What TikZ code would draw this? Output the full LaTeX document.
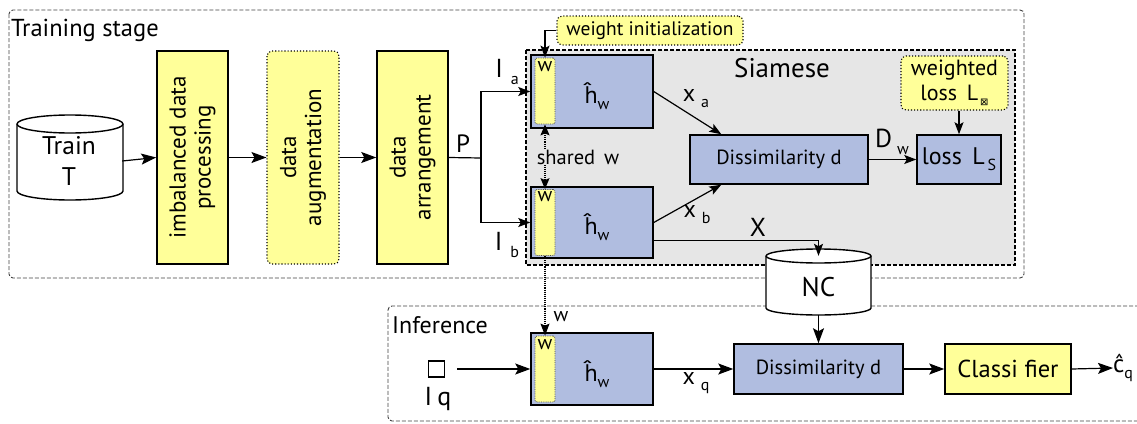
\documentclass[tikz,border=0pt]{standalone}
\usepackage{fontspec}
\setmainfont{PT Sans}
\newfontfamily\djv{DejaVu Sans}
\usetikzlibrary{arrows.meta,calc}
\definecolor{yel}{HTML}{FFFF99}
\definecolor{blu}{HTML}{B0BDE0}
\definecolor{sgray}{HTML}{E6E6E6}
\newcommand{\lo}[1]{\raisebox{-0.5ex}{\fontsize{16}{16}\selectfont #1}}
\newcommand{\fz}[1]{\fontsize{#1}{1.15em}\selectfont}
\tikzset{
  yb/.style={draw, line width=1.5pt, fill=yel, align=center, inner sep=0pt},
  bb/.style={draw, line width=1.5pt, fill=blu, align=center, inner sep=0pt},
  db/.style={draw, dotted, line width=1.1pt, rounded corners=5pt, fill=yel, align=center, inner sep=0pt},
  strip/.style={draw=black!70, densely dotted, line width=0.8pt, rounded corners=2pt, fill=yel, minimum width=20pt, minimum height=66pt, inner sep=0pt},
  arr/.style={-{Stealth[length=15pt,width=11pt,inset=3pt]}, line width=1.2pt},
  sarr/.style={-{Stealth[length=12pt,width=9pt,inset=2.5pt]}, line width=1.2pt},
  txt/.style={inner sep=0pt, align=center},
}
\begin{document}
\begin{tikzpicture}[x=1pt,y=-1pt]
\useasboundingbox (0,0) rectangle (1137,423);
% frames
\draw[black!75, dash pattern=on 4pt off 2pt, line width=0.9pt, rounded corners=4pt] (9,10) rectangle (1024,278);
\node[txt, font=\fz{24.5}, anchor=west] (tstage) at (11,30) {Training stage};
\draw[dash pattern=on 4pt off 2pt, line width=1.2pt, fill=sgray] (526,50) rectangle (1015,265);
\node[txt, font=\fz{27}] (siam) at (782,68) {Siamese};
\draw[black!75, dash pattern=on 4pt off 2pt, line width=0.9pt, rounded corners=4pt] (1145,306) -- (388,306) -- (388,421) -- (1145,421);
\node[txt, font=\fz{24}, anchor=west] (inf) at (392,325) {Inference};

% Train cylinder
\draw[line width=1.4pt, fill=white] (17,124) -- (17,191) arc[start angle=180, end angle=0, x radius=53, y radius=9] -- (123,124) arc[start angle=0, end angle=-180, x radius=53, y radius=9] -- cycle;
\draw[line width=1.4pt] (17,124) arc[start angle=180, end angle=0, x radius=53, y radius=9];
\node[txt, font=\fontsize{25.5}{31}\selectfont, minimum width=106pt, minimum height=85pt] (train) at (69,161) {Train\\T};

% pipeline
\node[yb, font=\fontsize{23}{25}\selectfont, rotate=90, minimum width=213pt, minimum height=71pt] (imb) at (192.5,157.5) {imbalanced data\\processing};
\node[db, font=\fontsize{23}{25}\selectfont, rotate=90, minimum width=213pt, minimum height=72pt] (aug) at (303,157.5) {data\\augmentation};
\node[yb, font=\fontsize{23}{25}\selectfont, rotate=90, minimum width=213pt, minimum height=71pt] (arrn) at (412.5,157.5) {data\\arrangement};
\draw[arr] (train.east) -- (imb.north);
\draw[arr] (imb.south) -- (aug.north);
\draw[arr] (aug.south) -- (arrn.north);
\coordinate (split) at (481,158);
\node[txt, font=\fz{25}] (P) at (463,144) {P};

% siamese blocks
\node[bb, minimum width=122pt, minimum height=73pt] (ha) at (592,91.5) {};
\node[bb, minimum width=122pt, minimum height=71pt] (hb) at (592,222.5) {};
\node[strip] (sa) at (545,91) {};
\node[strip] (sb) at (545,222.5) {};
\node[txt, font=\fz{20}] (wa) at (545,67) {w};
\node[txt, font=\fz{20}] (wb) at (545,197) {w};
\node[txt, font=\fz{24}] (hta) at (597,96) {\^{h}\lo{w}};
\node[txt, font=\fz{24}] (htb) at (597,227) {\^{h}\lo{w}};
\draw[line width=1.2pt] (arrn.south) -- (split);
\draw[sarr] (split) |- (ha.west);
\draw[sarr] (split) |- (hb.west);
\node[txt, font=\fz{26}] (Ia) at (507,72) {I\hspace{8pt}\lo{a}};
\node[txt, font=\fz{26}] (Ib) at (507,245) {I\hspace{8pt}\lo{b}};

\node[db, font=\fz{19.5}, minimum width=186pt, minimum height=29pt] (wi) at (650,30.5) {weight initialization};
\draw[sarr] (wi.west) -| (sa.north);
\draw[densely dotted, line width=1.1pt, {Stealth[length=11pt,width=9pt,inset=2pt]}-{Stealth[length=11pt,width=9pt,inset=2pt]}] (sa.south) -- (sb.north);
\node[txt, font=\fz{20.5}, fill=sgray, inner sep=1pt] (shw) at (578,157) {shared\, w};

\node[bb, font=\fz{20.5}, minimum width=178pt, minimum height=49pt] (d1) at (779,159.5) {Dissimilarity d};
\node[bb, font=\fz{24}, minimum width=84pt, minimum height=49pt] (ls) at (959,159.5) {loss \,L\hspace{3pt}\lo{S}};
\node[db, font=\fontsize{22}{25}\selectfont, minimum width=107pt, minimum height=54pt] (wl) at (954.5,83) {weighted\\loss \,L\hspace{2pt}\lo{\djv\fontsize{10}{10}\selectfont ⊠}};
\draw[sarr] (ha.east) -- ($(d1.north west)+(32,0)$);
\draw[sarr] (hb.east) -- ($(d1.south west)+(32,0)$);
\node[txt, font=\fz{24}] (xa) at (696,99) {x\hspace{6pt}\lo{a}};
\node[txt, font=\fz{24}] (xb) at (697,215) {x\hspace{6pt}\lo{b}};
\draw[sarr] (d1.east) -- (ls.west);
\node[txt, font=\fz{26}] (Dw) at (892,142) {D\hspace{5pt}\lo{w}};
\draw[sarr] (ls.north |- wl.south) -- (ls.north);

% NC cylinder
\node[txt, minimum width=105pt, minimum height=52pt] (nc) at (818.5,282) {};
\draw[line width=1.4pt, fill=white] (766,256) -- (766,308) arc[start angle=180, end angle=0, x radius=52.5, y radius=7] -- (871,256) arc[start angle=0, end angle=-180, x radius=52.5, y radius=7] -- cycle;
\draw[line width=1.4pt] (766,256) arc[start angle=180, end angle=0, x radius=52.5, y radius=7];
\node[txt, font=\fz{27}] (nct) at (818.5,287) {NC};
\draw[sarr] ($(hb.south east)+(0,-18)$) -| (nc.north);
\node[txt, font=\fz{26}] (X) at (758,227) {X};

% inference
\node[draw, line width=1.4pt, minimum width=16pt, minimum height=16pt, inner sep=0pt] (iq) at (436.5,369) {};
\node[txt, font=\fz{26}] (iql) at (438,399) {I\hspace{5pt}q};
\node[bb, minimum width=122pt, minimum height=72pt] (hc) at (592,369) {};
\node[strip] (sc) at (545,369) {};
\node[txt, font=\fz{20}] (wc) at (545,345) {w};
\node[txt, font=\fz{24}] (htc) at (597,374) {\^{h}\lo{w}};
\draw[densely dotted, line width=1.1pt, -{Stealth[length=12pt,width=9pt,inset=2pt]}] (sb.south) -- (sc.north);
\node[txt, font=\fz{20}] (wd) at (561,317) {w};
\draw[arr, shorten <=12pt] (iq.east) -- (hc.west);
\node[bb, font=\fz{20.5}, minimum width=169pt, minimum height=50pt] (d2) at (818.5,369) {Dissimilarity d};
\node[yb, font=\fz{24.5}, minimum width=126pt, minimum height=50pt] (cls) at (1008,369) {Classi fier};
\node[txt, font=\fz{25}, anchor=west] (cq) at (1113,368) {\^{c}\lo{q}};
\draw[arr] (hc.east) -- (d2.west);
\node[txt, font=\fz{24}] (xq) at (696,383) {x\hspace{6pt}\lo{q}};
\draw[arr] ($(nc.south)+(0,7)$) -- (d2.north);
\draw[arr] (d2.east) -- (cls.west);
\draw[arr] (cls.east) -- (cq.west);
\end{tikzpicture}
\end{document}
